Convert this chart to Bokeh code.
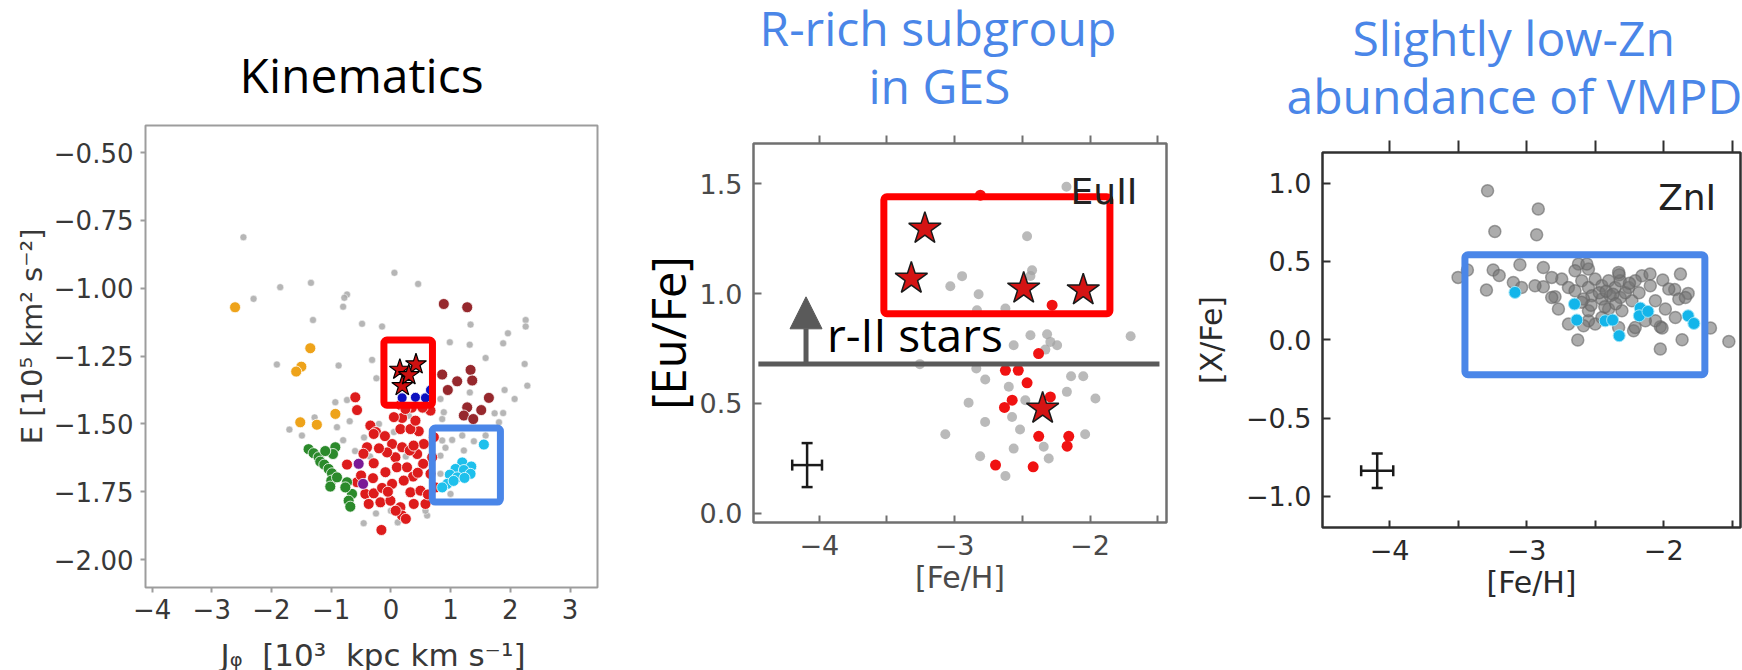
import math
from bokeh.plotting import figure
from bokeh.layouts import row, column
from bokeh.models import (Range1d, FixedTicker, LinearAxis, Label, BoxAnnotation,
                          Arrow, NormalHead, TeeHead, Whisker, ColumnDataSource,
                          CustomJSTickFormatter)
from bokeh.embed import file_html
from bokeh.resources import INLINE

# ---------------- Kinematics: J_phi vs E ----------------
GRAY_JPHI = [-2.47, -2.30, -1.854, -1.339, -0.735, -0.78, -0.80, -1.305, -0.483, -0.148,
             0.059, 0.456, -1.91, -0.876, -0.315, -0.243, 1.334, 2.257, 2.257, 1.96,
             0.987, 1.32, 1.88, 1.586, 2.24, 2.285, 1.904, 2.072, 1.322, -0.931,
             -0.735, 1.737, 1.88, 1.81, -1.278, -1.70, -1.49, -0.903, -0.69, 0.859,
             -0.456, 0.114, 0.607, 0.859, 0.914, 1.026, 1.222, 1.39, 1.195, 0.83,
             0.998, 0.83, 1.586, 0.83, 0.886, 0.579, -0.45, -0.20, 0.05, 0.30,
             -0.60, 0.25, -0.05, 0.60, -0.35, 0.45, -0.80, 0.0, -0.25, 0.50]
GRAY_E = [-0.812, -1.039, -0.996, -0.980, -1.023, -1.035, -1.068, -1.117, -1.131, -1.141,
          -0.943, -0.984, -1.281, -1.285, -1.264, -1.332, -1.134, -1.117, -1.141, -1.166,
          -1.199, -1.208, -1.203, -1.257, -1.279, -1.359, -1.375, -1.408, -1.384, -1.420,
          -1.412, -1.461, -1.460, -1.494, -1.476, -1.521, -1.543, -1.512, -1.490, -1.482,
          -1.866, -1.863, -1.838, -1.561, -1.588, -1.559, -1.598, -1.564, -1.543, -1.617,
          -1.758, -1.684, -1.543, -1.408, -1.457, -1.820, -1.55, -1.50, -1.53, -1.47,
          -1.60, -1.62, -1.68, -1.45, -1.62, -1.75, -1.56, -1.82, -1.83, -1.65]

RED_JPHI = [-0.596, -0.567, -0.344, -0.25, 0.188, 0.16, 0.159, 0.466, 0.663, 0.35,
            -0.40, 0.02, 0.188, -0.288, -0.092, 0.076, 0.44, 0.54, 0.372, 0.551,
            -0.735, -0.567, -0.428, -0.288, -0.148, 0.02, 0.215, 0.327, 0.495, -0.372,
            -0.176, -0.008, 0.159, 0.188, 0.383, 0.579, -0.159, 0.316, -0.064, -0.288,
            0.327, 0.243, 0.411, 0.719, 0.691, 0.663, 0.747, -0.50, -0.20, 0.10,
            0.27, -0.05, 0.45, -0.46, 0.62, 0.05, 0.53, -0.10, 0.38, 0.25, -0.30, 0.08]
RED_E = [-1.402, -1.449, -1.506, -1.53, -1.478, -1.43, -1.519, -1.527, -1.451, -1.44,
         -1.586, -1.574, -1.586, -1.645, -1.678, -1.623, -1.611, -1.647, -1.694, -1.574,
         -1.650, -1.715, -1.758, -1.756, -1.736, -1.721, -1.709, -1.752, -1.746, -1.795,
         -1.789, -1.783, -1.807, -1.838, -1.795, -1.795, -1.891, -1.598, -1.605, -1.537,
         -1.519, -1.445, -1.488, -1.549, -1.623, -1.684, -1.734, -1.69, -1.59, -1.66,
         -1.66, -1.75, -1.68, -1.61, -1.76, -1.475, -1.44, -1.545, -1.58, -1.85, -1.70, -1.82]

DARKRED_JPHI = [0.886, 1.278, 0.859, 1.11, 1.334, 1.362, 0.953, 1.641, 1.278, 1.513, 1.222, 1.379]
DARKRED_E = [-1.058, -1.07, -1.318, -1.343, -1.301, -1.34, -1.375, -1.404, -1.439, -1.449, -1.469, -1.482]

ORANGE_JPHI = [-2.61, -1.35, -1.50, -1.586, -0.93, -1.518, -1.24]
ORANGE_E = [-1.07, -1.221, -1.289, -1.307, -1.463, -1.494, -1.503]

GREEN_JPHI = [-1.379, -1.295, -1.211, -1.183, -1.116, -1.043, -0.987, -0.931, -0.97,
              -0.998, -1.015, -0.903, -0.735, -0.651, -0.708, -0.68, -0.763, -1.10]
GREEN_E = [-1.593, -1.608, -1.623, -1.639, -1.65, -1.666, -1.682, -1.586, -1.611,
           -1.709, -1.731, -1.697, -1.715, -1.758, -1.783, -1.805, -1.734, -1.60]

PURPLE_JPHI = [-0.54, -0.466]
PURPLE_E = [-1.647, -1.721]

CYAN_JPHI = [1.557, 1.195, 1.346, 1.082, 1.222, 1.334, 0.987, 1.11, 1.233, 0.943, 0.859, 1.05]
CYAN_E = [-1.576, -1.642, -1.657, -1.666, -1.67, -1.684, -1.687, -1.697, -1.699, -1.721, -1.734, -1.71]

BLUE_JPHI = [0.188, 0.411, 0.579, 0.663]
BLUE_E = [-1.404, -1.402, -1.404, -1.375]

STAR_JPHI = [0.15, 0.42, 0.19, 0.30]
STAR_E = [-1.30, -1.28, -1.36, -1.32]

# ---------------- [Eu/Fe] vs [Fe/H] ----------------
EU_GRAY_FEH = [-2.174, -2.465, -2.428, -2.44, -2.945, -3.032, -2.823, -2.835, -2.625, -2.44,
               -2.317, -2.293, -2.243, -1.70, -2.564, -3.257, -2.84, -2.774, -2.14, -2.05,
               -2.60, -2.171, -1.96, -2.897, -2.478, -2.576, -2.775, -3.069, -2.517, -2.036,
               -2.342, -2.564, -2.305, -2.812, -2.625, -2.33]
EU_GRAY_EU = [1.485, 1.26, 1.106, 1.08, 1.079, 1.033, 0.997, 0.924, 0.932, 0.81,
              0.815, 0.78, 0.765, 0.806, 0.765, 0.679, 0.659, 0.609, 0.624, 0.624,
              0.576, 0.553, 0.523, 0.503, 0.515, 0.439, 0.416, 0.36, 0.382, 0.36,
              0.303, 0.295, 0.25, 0.26, 0.17, 0.745]

EU_RED_FEH = [-2.81, -2.28, -2.38, -2.625, -2.53, -2.465, -2.293, -2.575, -2.632,
              -2.379, -2.157, -2.169, -2.698, -2.42]
EU_RED_EU = [1.447, 0.947, 0.727, 0.651, 0.651, 0.594, 0.53, 0.515, 0.482,
             0.351, 0.351, 0.306, 0.22, 0.212]

EU_STAR_FEH = [-3.22, -3.32, -2.49, -2.05, -2.35]
EU_STAR_EU = [1.295, 1.068, 1.023, 1.015, 0.477]

R_II_LIMIT = 0.68           # [Eu/Fe] threshold line for r-II stars
EU_ERR = dict(x=-4.09, y=0.22, dx=0.11, dy=0.10)

# ---------------- [Zn/Fe] vs [Fe/H] ----------------
ZN_GRAY_FEH = [-3.285, -2.915, -3.232, -2.927, -3.50, -3.432, -3.244, -3.20, -3.049, -2.878,
               -3.293, -3.097, -3.037, -2.878, -2.622, -2.549, -2.793, -2.325, -2.159, -2.10,
               -2.007, -1.878, -1.92, -1.822, -1.89, -1.659, -1.525, -1.866, -2.025, -2.025,
               -2.627, -2.22, -2.744, -2.695, -2.598, -2.549, -2.50, -2.451, -2.402, -2.354,
               -2.317, -2.256, -2.524, -2.451, -2.39, -2.317, -2.585, -2.647, -2.232, -2.061,
               -1.988, -1.915, -2.061, -2.012, -2.208, -2.50, -2.549, -2.451, -2.695, -2.768,
               -2.817, -2.817, -2.647, -2.561, -2.329, -2.208, -2.098, -1.963, -1.842, -2.305,
               -2.402, -2.549, -2.939, -2.329, -2.134, -2.585, -2.47, -2.42, -2.37, -2.28,
               -2.53, -2.60, -2.25, -2.18, -2.43, -2.35]
ZN_GRAY_ZN = [0.951, 0.834, 0.691, 0.67, 0.398, 0.445, 0.445, 0.41, 0.479, 0.461,
              0.317, 0.366, 0.334, 0.338, 0.483, 0.451, 0.274, 0.415, 0.408, 0.42,
              0.381, 0.419, 0.32, 0.296, 0.26, 0.075, -0.011, 0.0, -0.059, 0.083,
              -0.002, 0.057, 0.387, 0.334, 0.377, 0.334, 0.387, 0.345, 0.377, 0.334,
              0.377, 0.334, 0.281, 0.26, 0.281, 0.27, 0.26, 0.313, 0.249, 0.249,
              0.196, 0.142, 0.121, 0.075, 0.078, 0.10, 0.121, 0.142, 0.10, 0.196,
              0.27, 0.398, 0.44, 0.483, 0.43, 0.377, 0.345, 0.324, 0.27, 0.185,
              0.196, 0.185, 0.345, 0.078, 0.121, 0.089, 0.30, 0.31, 0.29, 0.30,
              0.22, 0.24, 0.36, 0.30, 0.21, 0.23]

ZN_CYAN_FEH = [-3.085, -2.651, -2.634, -2.427, -2.373, -2.325, -2.171, -2.178, -2.115, -1.822, -1.78]
ZN_CYAN_ZN = [0.302, 0.228, 0.126, 0.121, 0.126, 0.026, 0.202, 0.153, 0.181, 0.153, 0.104]

ZN_ERR = dict(x=-4.09, y=-0.836, dx=0.117, dy=0.11)

J_TICKS = [-4, -3, -2, -1, 0, 1, 2, 3]
E_TICKS = [-2.0, -1.75, -1.5, -1.25, -1.0, -0.75, -0.5]
FEH_TICKS = [-4, -3, -2]
FEH_HALF = [-4.5, -3.5, -2.5, -1.5]
FEH_ALL = [-4.0, -3.5, -3.0, -2.5, -2.0, -1.5]
EU_TICKS = [0.0, 0.5, 1.0, 1.5]
ZN_TICKS = [-1.0, -0.5, 0.0, 0.5, 1.0]

TITLE_BLUE = "#4a86e8"
BOX_RED = "#ff0000"
BOX_BLUE = "#4a86e8"

HEAD_H = 120          # heading strip above each panel
XLAB_H = 40           # strip under the kinematics panel for its x label
YLAB_W = 50           # strip left of the kinematics panel for its y label
PLOT_H = 670 - HEAD_H


def minus_fmt(digits):
    code = ("var s = Math.abs(tick).toFixed(%d);"
            "return (tick < -1e-9) ? '\\u2212' + s : s;") % digits
    return CustomJSTickFormatter(code=code)


def base_fig(width, height, xr, yr, left, right, top, bottom):
    p = figure(width=width, height=height, x_range=Range1d(*xr), y_range=Range1d(*yr),
               output_backend="svg", toolbar_location=None,
               min_border_left=left, min_border_right=right,
               min_border_top=top, min_border_bottom=bottom)
    p.grid.visible = False
    p.background_fill_color = "white"
    p.border_fill_color = "white"
    return p


def strip(width, height):
    """Blank text strip; its data units are pixels, y measured up from its bottom."""
    s = figure(width=width, height=height, x_range=Range1d(0, width), y_range=Range1d(0, height),
               output_backend="svg", toolbar_location=None, title=None,
               min_border=0, x_axis_type=None, y_axis_type=None)
    s.grid.visible = False
    s.outline_line_color = None
    s.background_fill_color = "white"
    s.border_fill_color = "white"
    return s


def label(p, x, y, text, size, color, font="Open Sans", align="left",
          baseline="alphabetic", angle=0.0):
    p.add_layout(Label(x=x, y=y, text=text, text_font=font, text_font_size=size,
                       text_color=color, text_align=align, text_baseline=baseline,
                       angle=angle))


def style_axis(ax, ticks, fmt, color, lab_color, font_size, tick_in, tick_out,
               standoff, minor=None):
    ax.ticker = FixedTicker(ticks=ticks, minor_ticks=minor or [])
    ax.formatter = fmt
    ax.axis_line_color = None
    ax.major_tick_line_color = color
    ax.major_tick_line_width = 2
    ax.major_tick_in = tick_in
    ax.major_tick_out = tick_out
    if minor:
        ax.minor_tick_line_color = color
        ax.minor_tick_line_width = 2
        ax.minor_tick_in = tick_in
        ax.minor_tick_out = tick_out
    else:
        ax.minor_tick_line_color = None
    ax.major_label_text_font = "DejaVu Sans"
    ax.major_label_text_font_size = font_size
    ax.major_label_text_color = lab_color
    ax.major_label_standoff = standoff
    ax.axis_label_text_font = "DejaVu Sans"
    ax.axis_label_text_font_style = "normal"
    ax.axis_label_text_color = lab_color


def error_cross(p, e, color="#1a1a1a"):
    src = ColumnDataSource(dict(x=[e["x"]], y=[e["y"]],
                                xl=[e["x"] - e["dx"]], xu=[e["x"] + e["dx"]],
                                yl=[e["y"] - e["dy"]], yu=[e["y"] + e["dy"]]))
    for base, lo, up, dim in (("x", "yl", "yu", "height"), ("y", "xl", "xu", "width")):
        p.add_layout(Whisker(source=src, base=base, lower=lo, upper=up, dimension=dim,
                             line_color=color, line_width=2.5,
                             lower_head=TeeHead(size=11, line_color=color, line_width=2.5),
                             upper_head=TeeHead(size=11, line_color=color, line_width=2.5)))


def top_ticks(p, color, length):
    top = LinearAxis(ticker=FixedTicker(ticks=FEH_ALL), axis_line_color=None,
                     major_tick_in=0, major_tick_out=length,
                     major_tick_line_color=color, major_tick_line_width=2,
                     minor_tick_line_color=None, major_label_text_alpha=0,
                     major_label_text_font_size="1px")
    p.add_layout(top, "above")


def box(p, l, r, t, b, color):
    p.add_layout(BoxAnnotation(left=l, right=r, top=t, bottom=b, fill_color=None,
                               line_color=color, line_alpha=1.0, line_width=7,
                               border_radius=3))


# ================= panel 1 =================
P1_H = PLOT_H - XLAB_H
p1 = base_fig(610 - YLAB_W, P1_H, (-4.11, 3.46), (-2.103, -0.40), 145 - YLAB_W, 13, 5, 43)
p1.outline_line_color = "#9d9d9d"
p1.outline_line_width = 2
style_axis(p1.xaxis[0], J_TICKS, minus_fmt(0), "#9d9d9d", "#383838", "26px", 0, 5, 6)
style_axis(p1.yaxis[0], E_TICKS, minus_fmt(2), "#9d9d9d", "#383838", "26px", 0, 5, 7)

p1.scatter(GRAY_JPHI, GRAY_E, size=7, fill_color="#a9a9a9", fill_alpha=0.85,
           line_color="white", line_width=0.5)
p1.scatter(RED_JPHI, RED_E, size=11, fill_color="#dd1c1c", line_color="white", line_width=0.8)
p1.scatter(DARKRED_JPHI, DARKRED_E, size=11, fill_color="#96282d", line_color="white", line_width=0.8)
p1.scatter(ORANGE_JPHI, ORANGE_E, size=11, fill_color="#eea31a", line_color="white", line_width=0.8)
p1.scatter(GREEN_JPHI, GREEN_E, size=11, fill_color="#2b8a2b", line_color="white", line_width=0.8)
p1.scatter(PURPLE_JPHI, PURPLE_E, size=11, fill_color="#7a1a96", line_color="white", line_width=0.8)
p1.scatter(CYAN_JPHI, CYAN_E, size=11, fill_color="#1ec0ec", line_color="white", line_width=0.8)
p1.scatter(BLUE_JPHI, BLUE_E, size=10, fill_color="#0c10c0", line_color="white", line_width=0.8)
p1.scatter(STAR_JPHI, STAR_E, marker="star", size=22, fill_color="#cc1010",
           line_color="black", line_width=1.2)
box(p1, -0.117, 0.696, -1.191, -1.431, BOX_RED)
box(p1, 0.693, 1.834, -1.515, -1.788, BOX_BLUE)

h1 = strip(610, HEAD_H)
label(h1, 239, 46, "Kinematics", "48px", "black")
yl1 = strip(YLAB_W, P1_H)
label(yl1, 31, P1_H + HEAD_H - 472, "E\u00A0[10\u2075\u00A0km\u00B2 s\u207B\u00B2]", "29px", "#383838",
      font="DejaVu Sans", angle=math.pi / 2)
xl1 = strip(610, XLAB_H)
label(xl1, 220, 16, "J\u1D69\u00A0\u00A0[10\u00B3\u00A0\u00A0kpc km s\u207B\u00B9]", "31px", "#383838",
      font="DejaVu Sans")

# ================= panel 2 =================
P2_C = "#707070"
p2 = base_fig(575, PLOT_H, (-4.486, -1.435), (-0.041, 1.682), 143, 19, 143 - HEAD_H, 148)
p2.outline_line_color = P2_C
p2.outline_line_width = 2.5
style_axis(p2.xaxis[0], FEH_TICKS, minus_fmt(0), P2_C, "#4a4a4a", "27px", 7, 0, 12, FEH_HALF)
style_axis(p2.yaxis[0], EU_TICKS, minus_fmt(1), P2_C, "#4a4a4a", "27px", 8, 0, 11)
p2.xaxis.axis_label = "[Fe/H]"
p2.xaxis.axis_label_text_font_size = "30px"
p2.xaxis.axis_label_standoff = 2
p2.yaxis.axis_label = "[Eu/Fe]"
p2.yaxis.axis_label_text_font = "Open Sans"
p2.yaxis.axis_label_text_font_size = "47px"
p2.yaxis.axis_label_text_color = "black"
p2.yaxis.axis_label_standoff = -3
top_ticks(p2, P2_C, 8)

p2.scatter(EU_GRAY_FEH, EU_GRAY_EU, size=10, fill_color="#a3a3a3", fill_alpha=0.75, line_color=None)
p2.scatter(EU_RED_FEH, EU_RED_EU, size=11, fill_color="#f01212", line_color=None)
p2.segment(x0=[-4.45], y0=[R_II_LIMIT], x1=[-1.487], y1=[R_II_LIMIT],
           line_color="#5a5a5a", line_width=5)
p2.scatter(EU_STAR_FEH, EU_STAR_EU, marker="star", size=34, fill_color="#d41414",
           line_color="#1a1a1a", line_width=1.5)
p2.add_layout(Arrow(end=NormalHead(size=32, fill_color="#5a5a5a", line_color="#5a5a5a"),
                    x_start=-4.098, y_start=R_II_LIMIT, x_end=-4.098, y_end=0.985,
                    line_color="#5a5a5a", line_width=5))
error_cross(p2, EU_ERR)
box(p2, -3.523, -1.853, 1.44, 0.908, BOX_RED)
label(p2, -1.65, 1.465, "EuII", "36px", "#222222", font="DejaVu Sans", align="right")
label(p2, -3.943, 0.815, "r-II stars", "46px", "black")

h2 = strip(575, HEAD_H)
label(h2, 149, 93, "R-rich subgroup", "48px", TITLE_BLUE)
label(h2, 258, 35, "in GES", "48px", TITLE_BLUE)

# ================= panel 3 =================
P3_C = "#303030"
p3 = base_fig(557, PLOT_H, (-4.489, -1.44), (-1.198, 1.195), 137, 2, 152 - HEAD_H, 143)
p3.outline_line_color = P3_C
p3.outline_line_width = 2.5
style_axis(p3.xaxis[0], FEH_TICKS, minus_fmt(0), P3_C, "#2a2a2a", "27px", 7, 0, 12, FEH_HALF)
style_axis(p3.yaxis[0], ZN_TICKS, minus_fmt(1), P3_C, "#2a2a2a", "27px", 8, 0, 11)
p3.xaxis.axis_label = "[Fe/H]"
p3.yaxis.axis_label = "[X/Fe]"
p3.xaxis.axis_label_text_font_size = "30px"
p3.yaxis.axis_label_text_font_size = "30px"
p3.xaxis.axis_label_standoff = 2
p3.yaxis.axis_label_standoff = 14
top_ticks(p3, P3_C, 12)

p3.scatter(ZN_GRAY_FEH, ZN_GRAY_ZN, size=12, fill_color="#757575", fill_alpha=0.6,
           line_color="#666666", line_alpha=0.6, line_width=1.5)
p3.scatter(ZN_CYAN_FEH, ZN_CYAN_ZN, size=12, fill_color="#13b5ea", line_color="#9be3f7", line_width=1)
error_cross(p3, ZN_ERR)
box(p3, -3.45, -1.70, 0.542, -0.223, BOX_BLUE)
label(p3, -1.617, 0.906, "ZnI", "36px", "#222222", font="DejaVu Sans", align="right")

h3 = strip(557, HEAD_H)
label(h3, 167, 83, "Slightly low-Zn", "48px", TITLE_BLUE)
label(h3, 101, 25, "abundance of VMPD", "48px", TITLE_BLUE)

# plots are wrapped in their own rows so the heading strips keep full-width frames
col1 = column(h1, row(yl1, p1, spacing=0), xl1, spacing=0)
col2 = column(h2, row(p2, spacing=0), spacing=0)
col3 = column(h3, row(p3, spacing=0), spacing=0)
layout = row(col1, col2, col3, spacing=0)
open("out.html", "w").write(file_html(layout, INLINE))
